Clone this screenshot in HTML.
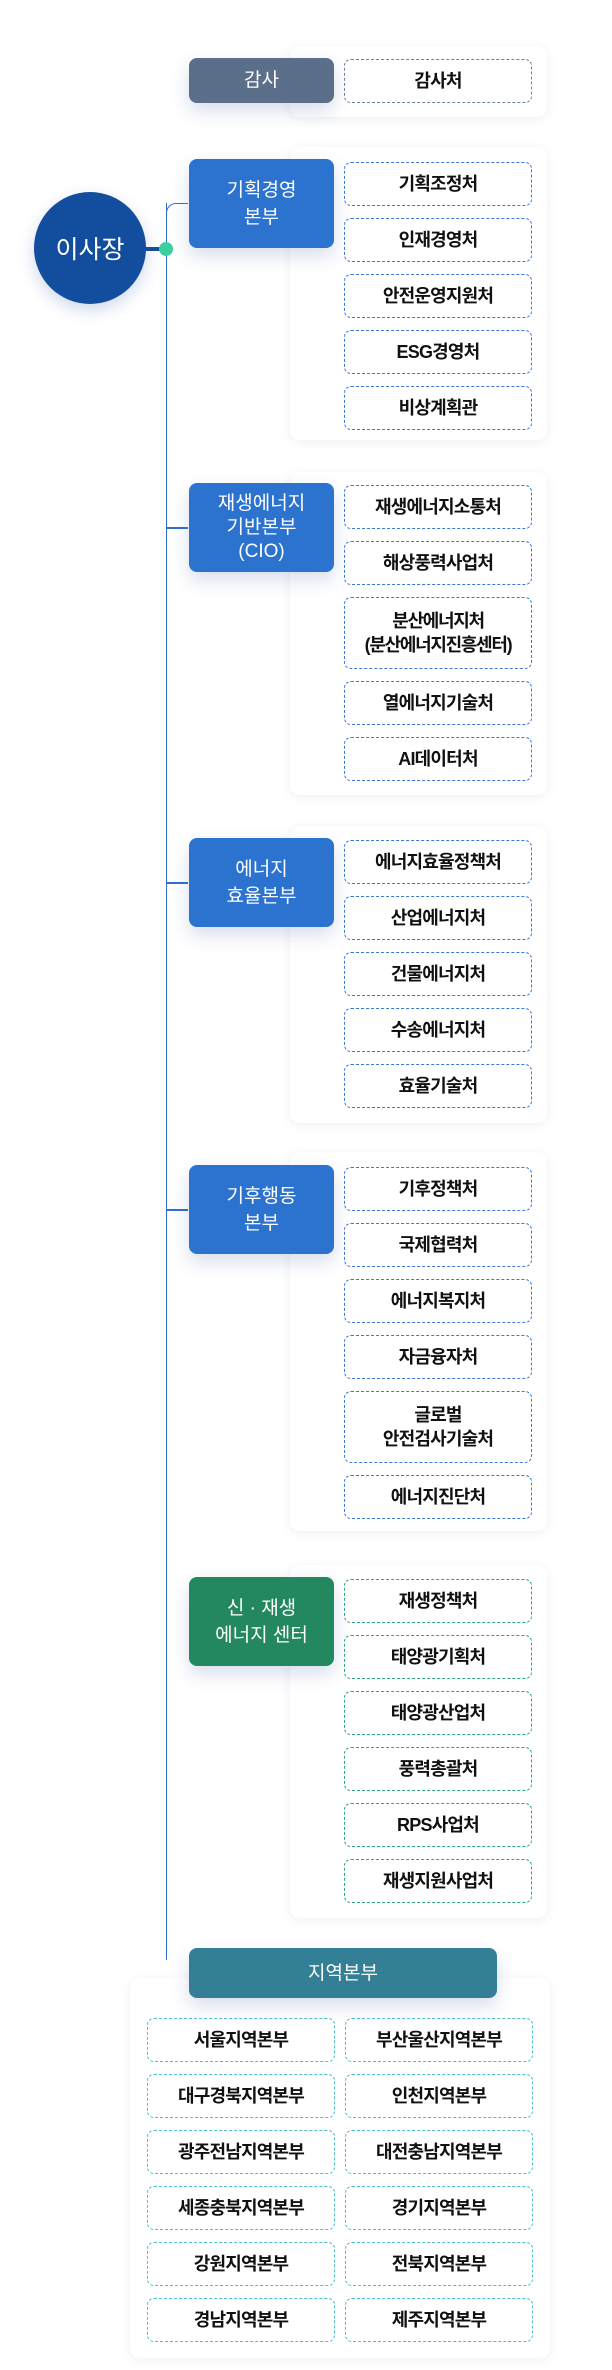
<!DOCTYPE html>
<html><head><meta charset="utf-8"><style>
body{margin:0;width:612px;height:2370px;background:#fff;position:relative;overflow:hidden;font-family:"Liberation Sans","Noto Sans CJK KR",sans-serif;}
.a{position:absolute;box-sizing:border-box;}
.card{background:#fff;border-radius:10px;box-shadow:0 2px 10px rgba(40,60,120,0.08);}
.head{color:#fff;border-radius:8px;display:flex;align-items:center;justify-content:center;text-align:center;font-size:19px;line-height:27px;box-shadow:0 8px 18px rgba(40,70,150,0.18);}
.sub{border:1.3px dashed #3b78d8;border-radius:7px;display:flex;align-items:center;justify-content:center;text-align:center;font-size:18px;line-height:24px;color:#111;font-weight:bold;letter-spacing:-0.8px;background:#fff;}
.g{border-color:#2fa67a}.t{border-color:#4bbfcb}.gr{border-color:#7080a0}
.br{position:absolute;left:166px;width:22px;height:1.5px;background:#2f6fd0;}
</style></head><body>

<div class="a" style="left:165.5px;top:203px;width:1.5px;height:1757px;background:#2f6fd0"></div>
<div class="a" style="left:165.5px;top:203px;width:22px;height:12px;border-top:1.5px solid #2f6fd0;border-left:1.5px solid #2f6fd0;border-top-left-radius:10px"></div>
<div class="br" style="top:527px"></div>
<div class="br" style="top:882px"></div>
<div class="br" style="top:1209px"></div>

<div class="a" style="left:34px;top:192px;width:112px;height:112px;border-radius:50%;background:#134e9e;box-shadow:0 6px 16px rgba(20,60,150,0.2);color:#fff;font-size:25px;display:flex;align-items:center;justify-content:center;">이사장</div>
<div class="a" style="left:145px;top:247px;width:18px;height:4px;background:#134e9e"></div>
<div class="a" style="left:159px;top:242px;width:14px;height:14px;border-radius:50%;background:#3ecf9f"></div>

<!-- 감사 -->
<div class="a card" style="left:290px;top:46px;width:257px;height:71px"></div>
<div class="a head" style="left:189px;top:58px;width:145px;height:45px;background:#5b6e8a">감사</div>
<div class="a sub gr" style="left:344px;top:59px;width:188px;height:44px">감사처</div>

<!-- 기획 -->
<div class="a card" style="left:290px;top:147px;width:257px;height:293px"></div>
<div class="a head" style="left:189px;top:159px;width:145px;height:89px;background:#2c72cf">기획경영<br>본부</div>
<div class="a sub" style="left:344px;top:162px;width:188px;height:44px">기획조정처</div>
<div class="a sub" style="left:344px;top:218px;width:188px;height:44px">인재경영처</div>
<div class="a sub" style="left:344px;top:274px;width:188px;height:44px">안전운영지원처</div>
<div class="a sub" style="left:344px;top:330px;width:188px;height:44px">ESG경영처</div>
<div class="a sub" style="left:344px;top:386px;width:188px;height:44px">비상계획관</div>

<!-- 재생 -->
<div class="a card" style="left:290px;top:472px;width:257px;height:323px"></div>
<div class="a head" style="left:189px;top:483px;width:145px;height:89px;background:#2c72cf;line-height:24px">재생에너지<br>기반본부<br>(CIO)</div>
<div class="a sub" style="left:344px;top:485px;width:188px;height:44px">재생에너지소통처</div>
<div class="a sub" style="left:344px;top:541px;width:188px;height:44px">해상풍력사업처</div>
<div class="a sub" style="left:344px;top:597px;width:188px;height:72px;letter-spacing:-1.3px">분산에너지처<br>(분산에너지진흥센터)</div>
<div class="a sub" style="left:344px;top:681px;width:188px;height:44px">열에너지기술처</div>
<div class="a sub" style="left:344px;top:737px;width:188px;height:44px">AI데이터처</div>

<!-- 효율 -->
<div class="a card" style="left:290px;top:826px;width:257px;height:297px"></div>
<div class="a head" style="left:189px;top:838px;width:145px;height:89px;background:#2c72cf">에너지<br>효율본부</div>
<div class="a sub" style="left:344px;top:840px;width:188px;height:44px">에너지효율정책처</div>
<div class="a sub" style="left:344px;top:896px;width:188px;height:44px">산업에너지처</div>
<div class="a sub" style="left:344px;top:952px;width:188px;height:44px">건물에너지처</div>
<div class="a sub" style="left:344px;top:1008px;width:188px;height:44px">수송에너지처</div>
<div class="a sub" style="left:344px;top:1064px;width:188px;height:44px">효율기술처</div>

<!-- 기후 -->
<div class="a card" style="left:290px;top:1152px;width:257px;height:379px"></div>
<div class="a head" style="left:189px;top:1165px;width:145px;height:89px;background:#2c72cf">기후행동<br>본부</div>
<div class="a sub" style="left:344px;top:1167px;width:188px;height:44px">기후정책처</div>
<div class="a sub" style="left:344px;top:1223px;width:188px;height:44px">국제협력처</div>
<div class="a sub" style="left:344px;top:1279px;width:188px;height:44px">에너지복지처</div>
<div class="a sub" style="left:344px;top:1335px;width:188px;height:44px">자금융자처</div>
<div class="a sub" style="left:344px;top:1391px;width:188px;height:72px">글로벌<br>안전검사기술처</div>
<div class="a sub" style="left:344px;top:1475px;width:188px;height:44px">에너지진단처</div>

<!-- 신재생 -->
<div class="a card" style="left:290px;top:1565px;width:257px;height:353px"></div>
<div class="a head" style="left:189px;top:1577px;width:145px;height:89px;background:#238760">신 · 재생<br>에너지 센터</div>
<div class="a sub g" style="left:344px;top:1579px;width:188px;height:44px">재생정책처</div>
<div class="a sub g" style="left:344px;top:1635px;width:188px;height:44px">태양광기획처</div>
<div class="a sub g" style="left:344px;top:1691px;width:188px;height:44px">태양광산업처</div>
<div class="a sub g" style="left:344px;top:1747px;width:188px;height:44px">풍력총괄처</div>
<div class="a sub g" style="left:344px;top:1803px;width:188px;height:44px">RPS사업처</div>
<div class="a sub g" style="left:344px;top:1859px;width:188px;height:44px">재생지원사업처</div>

<!-- 지역 -->
<div class="a card" style="left:130px;top:1978px;width:420px;height:380px"></div>
<div class="a head" style="left:189px;top:1948px;width:308px;height:50px;background:#337f95">지역본부</div>
<div class="a sub t" style="left:147px;top:2018px;width:188px;height:44px">서울지역본부</div>
<div class="a sub t" style="left:345px;top:2018px;width:188px;height:44px">부산울산지역본부</div>
<div class="a sub t" style="left:147px;top:2074px;width:188px;height:44px">대구경북지역본부</div>
<div class="a sub t" style="left:345px;top:2074px;width:188px;height:44px">인천지역본부</div>
<div class="a sub t" style="left:147px;top:2130px;width:188px;height:44px">광주전남지역본부</div>
<div class="a sub t" style="left:345px;top:2130px;width:188px;height:44px">대전충남지역본부</div>
<div class="a sub t" style="left:147px;top:2186px;width:188px;height:44px">세종충북지역본부</div>
<div class="a sub t" style="left:345px;top:2186px;width:188px;height:44px">경기지역본부</div>
<div class="a sub t" style="left:147px;top:2242px;width:188px;height:44px">강원지역본부</div>
<div class="a sub t" style="left:345px;top:2242px;width:188px;height:44px">전북지역본부</div>
<div class="a sub t" style="left:147px;top:2298px;width:188px;height:44px">경남지역본부</div>
<div class="a sub t" style="left:345px;top:2298px;width:188px;height:44px">제주지역본부</div>

</body></html>
